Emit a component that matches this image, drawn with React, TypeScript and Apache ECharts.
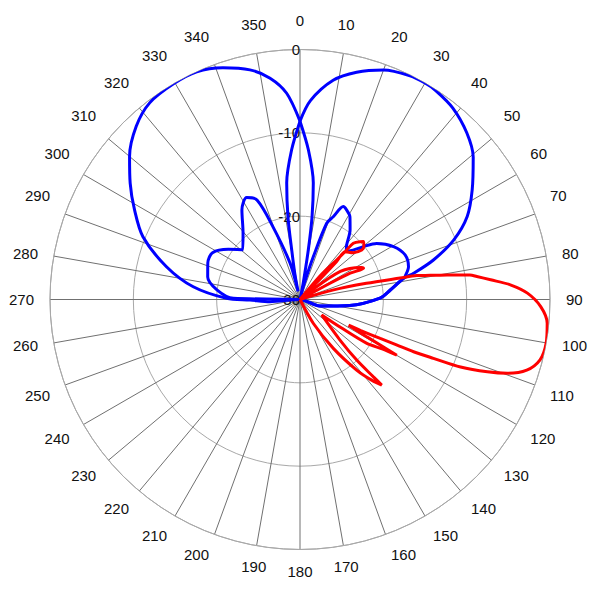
import React, { useEffect, useRef } from 'react';
import * as echarts from 'echarts';

// Blue pattern 1: right main lobe + left side lobes (angle in degrees, level in dB)
const blue1Angle = [0, 3, 8.6, 14, 20, 26, 30, 33, 38.6, 45, 50.6, 57.5, 63.6, 68.8, 73.5, 77, 78.4, 84, 89, 96.8, 108, 115, 265, 271, 276.5, 283.7, 291.6, 298.1, 305, 311, 319.4, 327, 332.4, 336.6, 339.6, 344.7, 346.5, 348.5, 350.5, 351.7, 353.5, 356.8, 360];
const blue1Value = [-8.6, -6.1, -3.4, -1.9, -0.7, -0.1, 0, -0.1, -0.6, -1.7, -3.1, -5.5, -7.6, -10.2, -13.3, -16, -17.3, -19.1, -20.4, -24, -27.5, -30, -30, -22, -20, -18.6, -18.1, -18.1, -19.5, -20.9, -19.5, -17.2, -16.2, -17, -20.7, -25.5, -29, -27, -24, -20, -15.9, -12, -8.6];

// Blue pattern 2: left main lobe + right side lobes
const blue2Angle = [0, 3.2, 6.5, 8.3, 9.5, 11, 13, 15, 17.3, 19.3, 21.9, 25, 27.6, 31.1, 35.7, 40.6, 44, 47.1, 50.2, 53.8, 60.5, 67, 73.2, 77.7, 78.4, 84, 89, 96.8, 108, 115, 263, 265.8, 269.4, 270.9, 276.8, 283.8, 291.8, 298.5, 304.4, 310, 316.6, 322.6, 329.6, 335.6, 341.6, 347.7, 352.3, 356.3, 360];
const blue2Value = [-8.6, -12, -15.9, -20, -24, -28, -30, -28, -24.6, -20.3, -19.3, -17.7, -17.9, -18.4, -19.7, -21.4, -22, -21.3, -20.1, -18.6, -17.1, -16.3, -16.4, -17.1, -17.3, -19.1, -20.4, -24, -27.5, -30, -30, -26.4, -24, -21.2, -17.1, -13.5, -9.7, -7.4, -5.3, -3.3, -1.4, -0.3, 0, 0, -0.7, -1.8, -3.2, -5.2, -8.6];

// Red pattern (traced in drawing order)
const redAngle = [38, 40.4, 42.9, 43.3, 43.5, 46.1, 47.6, 50.1, 51.3, 48.6, 43.5, 44, 44.5, 45, 50, 55.2, 62.4, 63.8, 62.3, 61.6, 60, 70, 74.1, 76.3, 77.9, 78.4, 79.5, 80.5, 81.8, 82.6, 84.1, 86, 88.4, 91.7, 95.5, 100.1, 104.1, 107.3, 109.6, 111.1, 112.8, 113.8, 114.7, 115.2, 115.9, 117, 117.8, 119.2, 119.9, 121, 123.3, 124.5, 125.5, 135.4, 136.9, 136.5, 136.3, 138.3, 141.2, 145.7, 150.8, 155];
const redValue = [-30, -26.3, -23.5, -21.8, -20.7, -20, -19.7, -20, -20.5, -21.5, -22.1, -23.7, -26.5, -30, -29, -24.1, -21.7, -21.5, -23.2, -25.9, -30, -30, -25.8, -21.8, -17.7, -15.7, -14.1, -12.1, -9.4, -8.6, -7, -4.7, -2.7, -1.1, -0.2, 0, -0.3, -1.5, -3.6, -5.9, -9.1, -12.5, -15, -17.2, -19.3, -21.8, -23.4, -20.8, -16.6, -18.5, -20.4, -24, -26.8, -23.2, -20, -17.2, -15.8, -17, -19.1, -22.9, -26.7, -30];

const FONT = '"Liberation Sans", Arial, sans-serif';

function toData(angles: number[], values: number[]) {
  return angles.map((a, i) => [values[i], a]);
}

export default function App() {
  const ref = useRef<HTMLDivElement>(null);
  useEffect(() => {
    const chart = echarts.init(ref.current!, null, { renderer: 'svg' });
    const lineSeries = (name: string, data: number[][], color: string) => ({
      name,
      type: 'line',
      coordinateSystem: 'polar',
      data,
      symbol: 'none',
      showSymbol: false,
      smooth: 0.3,
      lineStyle: { color, width: 3 },
      itemStyle: { color },
    });
    chart.setOption({
      animation: false,
      backgroundColor: '#ffffff',
      polar: { center: [300, 299.5], radius: 250 },
      angleAxis: {
        type: 'value',
        min: 0,
        max: 360,
        interval: 10,
        startAngle: 90,
        clockwise: true,
        axisLine: { show: true, lineStyle: { color: '#a8a8a8', width: 1 } },
        axisTick: { show: false },
        axisLabel: {
          margin: 16,
          color: '#111',
          fontSize: 15,
          fontFamily: FONT,
          padding: [-2, 0, 6, 0],
          formatter: (v: number) => (v === 360 ? '' : String(v)),
        },
        splitLine: { show: true, lineStyle: { color: '#707070', width: 1 } },
      },
      radiusAxis: {
        type: 'value',
        min: -30,
        max: 0,
        interval: 10,
        axisLine: { show: false },
        axisTick: { show: false },
        axisLabel: { margin: 0, color: '#111', fontSize: 15, fontFamily: FONT },
        splitLine: { show: true, lineStyle: { color: '#a8a8a8', width: 1 } },
      },
      series: [
        lineSeries('Blue 1', toData(blue1Angle, blue1Value), '#0000ff'),
        lineSeries('Blue 2', toData(blue2Angle, blue2Value), '#0000ff'),
        lineSeries('Red', toData(redAngle, redValue), '#ff0000'),
      ],
    });
    return () => chart.dispose();
  }, []);
  return (
    <div
      ref={ref}
      style={{ position: 'absolute', left: 0, top: 0, width: 600, height: 600, background: '#fff' }}
    />
  );
}
